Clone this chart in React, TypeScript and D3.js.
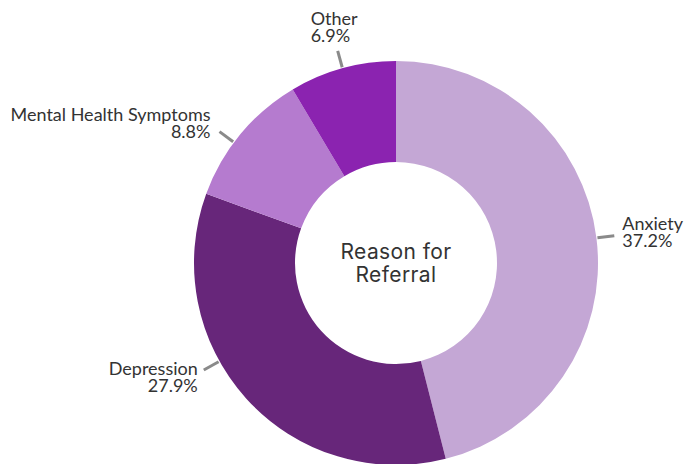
import React from 'react';
import * as d3 from 'd3';

const categories = ['Anxiety', 'Depression', 'Mental Health Symptoms', 'Other'];
const values = [37.2, 27.9, 8.8, 6.9];
const colors = ['#c4a7d5', '#67267a', '#b57bcf', '#8b23b0'];

// label placement tweaks (degrees nudge, text anchor, offsets)
const labelLayout = [
  { nudge: 0, anchor: 'start', dx: 8, dy: -6 },
  { nudge: 13, anchor: 'end', dx: -6, dy: 5 },
  { nudge: -3, anchor: 'end', dx: -9, dy: -11 },
  { nudge: 0, anchor: 'start', dx: -27, dy: -26 },
];

const width = 697;
const height = 464;
const cx = 396;
const cy = 263;
const outerR = 202;
const innerR = 101;
const lineGap = 17;

export default function App() {
  const pie = d3.pie<number>().sort(null).value(d => d);
  const arcs = pie(values);
  const arc = d3.arc<d3.PieArcDatum<number>>().innerRadius(innerR).outerRadius(outerR);

  const polar = (a: number, r: number) => [cx + r * Math.sin(a), cy - r * Math.cos(a)];

  return (
    <svg width={width} height={height} style={{ position: 'absolute', left: 0, top: 0 }}>
      <g transform={`translate(${cx},${cy})`}>
        {arcs.map((d, i) => (
          <path key={i} d={arc(d) || ''} fill={colors[i]} />
        ))}
      </g>
      {arcs.map((d, i) => {
        const lay = labelLayout[i];
        const a = (d.startAngle + d.endAngle) / 2 + (lay.nudge * Math.PI) / 180;
        const [x1, y1] = polar(a, outerR + 1);
        const [x2, y2] = polar(a, outerR + 18);
        const tx = x2 + lay.dx;
        const ty = y2 + lay.dy;
        return (
          <g key={i} fontFamily="Lato, sans-serif" fontSize={18} fill="#333" textAnchor={lay.anchor}>
            <line x1={x1} y1={y1} x2={x2} y2={y2} stroke="#8a8a8a" strokeWidth={3} />
            <text x={tx} y={ty}>{categories[i]}</text>
            <text x={tx} y={ty + lineGap}>{values[i].toFixed(1)}%</text>
          </g>
        );
      })}
      <g textAnchor="middle" fontFamily="Inter, sans-serif" fontSize={21} fill="#333" letterSpacing={0.4}>
        <text x={cx} y={259}>Reason for</text>
        <text x={cx} y={282}>Referral</text>
      </g>
    </svg>
  );
}
